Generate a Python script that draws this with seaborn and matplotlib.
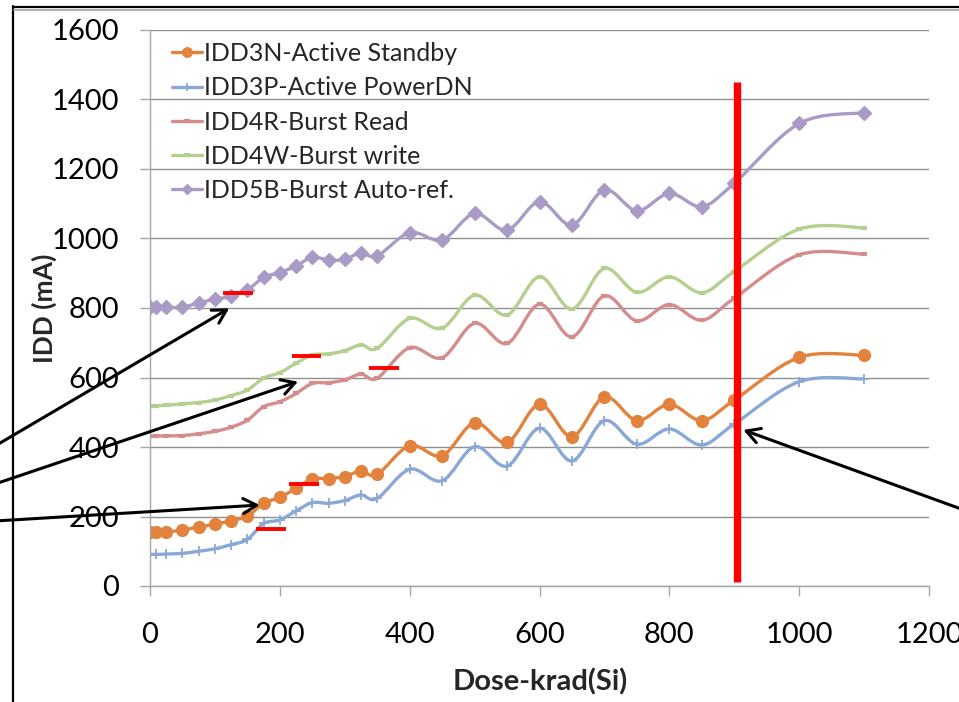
import numpy as np
import pandas as pd
import seaborn as sns
import matplotlib
matplotlib.use("Agg")
import matplotlib.pyplot as plt
from matplotlib.path import Path
from matplotlib.patches import PathPatch
from matplotlib.lines import Line2D

# data
dose = [0, 10, 25, 50, 75, 100, 125, 150, 175, 200, 225, 250, 275, 300, 325, 350,
        400, 450, 500, 550, 600, 650, 700, 750, 800, 850, 900, 1000, 1100]
idd3n = [156, 156, 156, 161, 170, 178, 188, 201, 238, 255, 281, 308, 309, 315, 331, 321,
         404, 375, 470, 413, 523, 430, 544, 476, 523, 476, 535, 658, 664]
idd3p = [91, 91, 92, 94, 100, 107, 119, 134, 180, 190, 216, 240, 238, 246, 262, 252,
         336, 303, 401, 345, 454, 360, 476, 408, 452, 406, 466, 588, 596]
idd4r = [432, 432, 432, 433, 438, 445, 457, 477, 516, 530, 554, 583, 585, 593, 610, 598,
         686, 657, 756, 698, 811, 717, 835, 763, 810, 765, 828, 953, 955]
idd4w = [519, 519, 520, 524, 528, 535, 548, 564, 598, 614, 641, 665, 668, 677, 694, 684,
         770, 742, 837, 780, 890, 797, 914, 845, 890, 844, 905, 1027, 1031]
idd5b = [802, 802, 802, 802, 815, 825, 834, 852, 888, 902, 921, 946, 938, 940, 959, 950,
         1017, 996, 1072, 1024, 1106, 1039, 1140, 1080, 1130, 1092, 1159, 1331, 1362]

series_names = ["IDD3N-Active Standby", "IDD3P-Active PowerDN", "IDD4R-Burst Read",
                "IDD4W-Burst write", "IDD5B-Burst Auto-ref."]
series_values = [idd3n, idd3p, idd4r, idd4w, idd5b]

# annotations drawn over the chart
limit_dose = 905
limit_span = (12, 1450)
red_marks = [(844, 113, 158), (661, 218, 263), (628, 338, 384), (293, 214, 260), (163, 163, 210)]
# arrow head in data units, tail in figure pixels (from top-left)
arrows = [((122, 799), (-5, 446)), ((228, 588), (-5, 484)),
          ((169, 233), (-5, 521)), ((914, 449), (975, 514))]

colors = ["#E2823C", "#8AA8D6", "#D48C8C", "#B5CF8E", "#A99BC6"]
markers = ["o", "+", "_", "_", "D"]
msizes = [8.5, 7, 5, 5, 7]
mews = [1, 1.3, 3, 3, 1]

df = pd.concat([pd.DataFrame({"dose": dose, "idd": v, "series": n})
                for n, v in zip(series_names, series_values)])

sns.set_theme(style="white")
plt.rcParams["font.family"] = ["Lato", "DejaVu Sans"]

W, H = 959, 702
fig = plt.figure(figsize=(W / 100, H / 100), dpi=100)
ax = fig.add_axes([150 / W, 1 - 586 / H, 779 / W, 556 / H])


def smooth_path(x, y):
    # excel-like smoothed line: cubic bezier through every point
    pts = np.column_stack([x, y]).astype(float)
    n = len(pts)
    verts, codes = [pts[0]], [Path.MOVETO]
    for i in range(n - 1):
        p0, p1, p2, p3 = pts[max(i - 1, 0)], pts[i], pts[i + 1], pts[min(i + 2, n - 1)]
        verts += [p1 + (p2 - p0) / 6, p2 - (p3 - p1) / 6, p2]
        codes += [Path.CURVE4] * 3
    return Path(verts, codes)


handles = []
for k, name in enumerate(series_names):
    sub = df[df["series"] == name]
    ax.add_patch(PathPatch(smooth_path(sub["dose"], sub["idd"]), fill=False,
                           edgecolor=colors[k], lw=2.4, zorder=2 + k * 0.1,
                           transform=ax.transData))
    sns.lineplot(data=sub, x="dose", y="idd", ax=ax, color=colors[k], marker=markers[k],
                 markersize=msizes[k], markeredgewidth=mews[k], markeredgecolor=colors[k],
                 linestyle="none", zorder=2.05 + k * 0.1, legend=False)
    handles.append(Line2D([], [], color=colors[k], lw=2.4, marker=markers[k],
                          markersize=msizes[k] * 0.8, markeredgewidth=mews[k],
                          markeredgecolor=colors[k]))

ax.set_xlim(0, 1200)
ax.set_ylim(0, 1600)
ax.set_xticks(range(0, 1201, 200))
ax.set_yticks(range(0, 1601, 200))
ax.yaxis.grid(True, color="#8f8f8f", lw=1)
ax.xaxis.grid(False)
for s in ["top", "right"]:
    ax.spines[s].set_visible(False)
for s in ["left", "bottom"]:
    ax.spines[s].set_color("#a6a6a6")
    ax.spines[s].set_linewidth(1)
ax.tick_params(axis="both", direction="out", length=7, width=1, color="#a6a6a6",
               labelsize=21, labelcolor="black", left=True, bottom=True)
ax.tick_params(axis="y", pad=15)
ax.tick_params(axis="x", pad=19)

ax.set_xlabel("Dose-krad(Si)", fontsize=21, fontweight="bold", va="center")
ax.xaxis.set_label_coords((540 - 150) / 779, (586 - 682) / 556)
ax.set_ylabel("IDD (mA)", fontsize=19, fontweight="bold", va="center")
ax.yaxis.set_label_coords((44 - 150) / 779, (586 - 308) / 556)

ax.legend(handles, series_names, loc="upper left", bbox_to_anchor=(172 / W, 1 - 42 / H),
          bbox_transform=fig.transFigure, frameon=False, fontsize=18, borderpad=0,
          borderaxespad=0, handlelength=1.2, handletextpad=0.08, labelspacing=0.45)

# red highlight marks
for yv, x0, x1 in red_marks:
    ax.hlines(yv, x0, x1, color="red", lw=2.8, zorder=4)
ax.vlines(limit_dose, *limit_span, color="red", lw=5.3, zorder=5)

for (hx, hy), (tx, ty) in arrows:
    ax.annotate("", xy=(hx, hy), xycoords="data", xytext=(tx, H - ty),
                textcoords="figure pixels", annotation_clip=False,
                arrowprops=dict(arrowstyle="->,head_length=0.8,head_width=0.45", lw=2.2,
                                color="black", shrinkA=0, shrinkB=0), zorder=6)

# frame of the original slide
fig.add_artist(Line2D([13 / W, 13 / W], [0, 1 - 6 / H], transform=fig.transFigure,
                      color="black", lw=1.6))
fig.add_artist(Line2D([13 / W, 1], [1 - 6.5 / H] * 2, transform=fig.transFigure,
                      color="black", lw=1.6))
fig.add_artist(Line2D([14 / W, 1], [1 - 9.5 / H] * 2, transform=fig.transFigure,
                      color="#b0b0b0", lw=1.4))

fig.savefig("out.png", dpi=100)
